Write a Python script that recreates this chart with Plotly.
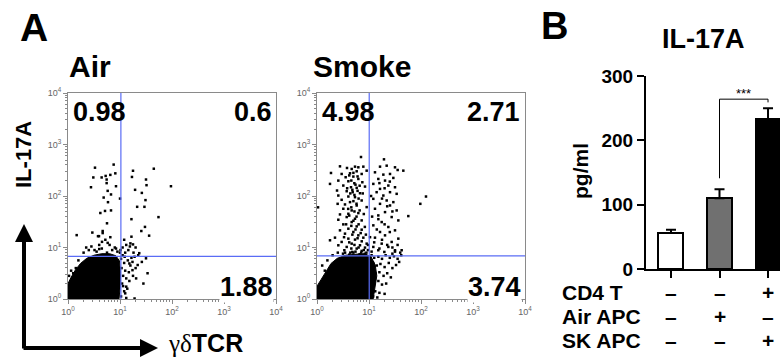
import plotly.graph_objects as go
import numpy as np

# ---------------- data ----------------
# flow cytometry dots, stored as log10 values (gamma-delta TCR, IL-17A)
air_dots = [
    (0.519,2.55),(0.878,2.61),(0.487,2.36),(0.647,2.36),(0.724,2.39),(0.814,2.41),(0.743,2.32),(0.910,2.44),
    (1.25,2.49),(1.23,2.37),(1.65,2.53),(0.442,2.17),(0.923,2.19),(0.743,2.25),(1.50,2.32),(1.51,2.21),
    (1.98,2.19),(1.29,2.12),(0.763,2.10),(0.827,2.03),(0.686,1.97),(0.769,1.88),(1.0,1.95),(1.42,2.06),
    (1.49,1.92),(1.33,1.79),(1.47,1.79),(0.827,1.72),(0.712,1.71),(0.622,1.67),(1.74,1.59),(1.22,1.55),
    (0.75,1.47),(1.48,1.40),(1.41,1.32),(1.56,1.23),(0.167,1.24),(0.468,1.29),(0.667,1.32),(0.667,1.28),
    (0.577,1.22),(0.596,1.22),(0.814,1.20),(0.718,1.15),(0.654,1.11),(0.763,1.09),(1.08,1.15),(1.22,1.21),
    (1.12,1.05),(1.19,1.02),(1.25,1.06),(0.923,0.98),(1.01,0.95),(0.60,0.97),(0.51,0.95),
    (1.37,0.89),(1.50,0.79),(1.53,0.50),(1.45,0.30),(1.31,0.40),(1.24,0.56),(1.34,0.66),(1.18,0.69),
    (1.42,0.72),(1.28,0.82),(1.12,0.24),(1.10,0.11),(1.28,0.01),(1.05,0.85),(1.08,0.70),(1.03,0.60),
    (1.10,0.55),(1.06,0.45),(1.12,0.40),(1.04,0.30),(1.15,0.75),(1.20,0.65),(1.14,0.20),(1.08,0.15),
    (1.02,0.05),(1.18,0.35),(1.25,0.45),(1.30,0.60),(1.22,0.80),(1.10,0.90),(1.16,0.95),(1.26,0.90),
    (1.35,0.85),(1.05,1.00),(1.20,1.08),(1.30,1.00),(1.00,0.90),(1.12,0.02),(1.06,0.25),(1.17,0.52),
    (1.09,0.82),(1.24,0.72),(1.02,0.78),
    (0.30,0.90),(0.40,0.95),(0.55,0.92),(0.65,0.98),(0.75,0.90),(0.85,0.95),(0.45,1.02),(0.60,1.05),
    (0.20,0.75),(0.15,0.60),(0.90,1.00),(0.35,1.00),(0.80,1.05),(0.95,0.92),
    (0.03,0.10),(0.05,0.25),(0.08,0.40),(0.02,0.45),(0.10,0.50),(0.06,0.55),
]
air_blob = [(0.0,0.0),(0.0,0.3),(0.06,0.42),(0.14,0.56),(0.24,0.69),(0.36,0.79),(0.5,0.85),(0.65,0.88),
            (0.8,0.88),(0.92,0.84),(0.99,0.74),(1.01,0.5),(1.0,0.2),(0.98,0.0)]

smoke_dots = [
    (0.846,2.757),(0.442,2.576),(0.577,2.544),(0.731,2.570),(0.795,2.557),(0.891,2.570),(0.667,2.525),
    (0.269,2.447),(0.474,2.428),(0.635,2.441),(0.763,2.480),(0.859,2.428),(0.955,2.492),(0.551,2.364),
    (0.699,2.377),(0.795,2.331),(0.410,2.299),(0.603,2.286),(0.250,2.235),(0.718,2.248),(0.872,2.267),
    (0.506,2.203),(0.654,2.170),(0.763,2.158),(0.923,2.183),(0.385,2.106),(0.571,2.093),(0.686,2.074),
    (0.827,2.054),(0.410,2.009),(0.603,1.990),(0.731,1.977),(0.474,1.926),(0.859,1.913),(0.635,1.881),
    (0.538,1.836),(0.763,1.816),(0.397,1.848),(0.955,1.784),(0.506,1.752),(0.667,1.720),(0.603,1.655),
    (0.795,1.668),(0.442,1.642),(0.571,1.591),(0.731,1.558),(0.859,1.526),(0.410,1.539),(0.667,1.494),
    (0.506,1.449),(0.763,1.410),(0.603,1.365),(0.859,1.346),(0.442,1.333),(0.699,1.301),(0.538,1.269),
    (0.795,1.236),(0.346,1.191),(0.250,1.140),(0.603,1.172),(0.731,1.153),(0.891,1.191),(0.474,1.108),
    (0.667,1.075),(0.827,1.043),(0.571,1.011),(0.763,0.979),(0.923,0.998),(0.410,1.043),(0.526,0.947),
    (0.679,0.914),(0.859,0.934),(0.955,1.075),
    (0.62,2.40),(0.70,2.45),(0.78,2.38),(0.66,2.30),(0.74,2.22),(0.82,2.20),(0.68,2.12),(0.78,2.10),
    (0.72,2.02),(0.64,2.05),(0.80,1.95),(0.70,1.90),(0.76,1.85),(0.66,1.78),(0.72,1.70),(0.82,1.72),
    (0.62,1.62),(0.76,1.60),(0.70,1.52),(0.80,1.45),(0.66,1.42),(0.74,1.35),(0.84,1.28),(0.68,1.25),
    (0.78,1.18),(0.62,1.10),(0.72,1.05),(0.86,1.12),(0.80,1.00),(0.66,0.98),(0.90,0.95),(0.58,2.15),
    (0.88,2.05),(0.60,1.75),(0.90,1.65),(0.56,1.45),(0.92,1.40),(0.52,1.20),(0.94,1.25),(0.98,1.05),
    (0.98,0.95),(0.95,0.90),(0.85,0.90),(0.74,0.92),(0.64,0.90),(0.54,0.90),(0.02,1.78),
    (1.288,2.712),(1.500,2.557),(1.551,2.505),(1.660,2.492),(1.212,2.570),(1.340,2.589),(1.115,2.460),
    (1.276,2.415),(1.404,2.428),(1.179,2.331),(1.468,2.351),(1.308,2.299),(1.083,2.235),(1.372,2.203),
    (1.500,2.170),(1.212,2.138),(1.147,2.074),(1.404,2.074),(1.532,2.042),(1.276,2.009),(1.083,1.945),
    (1.340,1.913),(1.468,1.881),(1.212,1.848),(1.404,1.816),(1.115,1.752),(1.532,1.720),(1.308,1.687),
    (1.179,1.623),(1.436,1.591),(1.564,1.526),(1.244,1.494),(1.083,1.430),(1.372,1.398),(1.500,1.333),
    (1.212,1.301),(1.308,1.236),(1.115,1.191),(1.564,1.172),(1.436,1.108),(1.244,1.075),(1.083,1.011),
    (1.372,1.011),(1.628,0.947),(1.500,0.947),(1.179,0.947),(1.295,0.914),
    (2.096,1.990),(1.987,1.848),(1.756,1.610),
    (1.20,2.25),(1.30,2.15),(1.40,2.28),(1.25,1.95),(1.35,1.80),(1.45,1.70),(1.18,1.55),(1.30,1.45),
    (1.40,1.30),(1.15,1.35),(1.25,1.15),(1.35,1.05),(1.45,1.00),(1.10,1.10),(1.20,0.98),(1.05,0.92),
    (1.55,1.05),(1.50,0.92),(1.60,0.90),(1.02,1.20),(1.06,1.60),(1.04,2.00),
    (1.05,0.85),(1.10,0.80),(1.18,0.82),(1.25,0.78),(1.32,0.85),(1.40,0.80),(1.48,0.83),(1.55,0.78),
    (1.62,0.85),(1.08,0.70),(1.15,0.65),(1.22,0.68),(1.30,0.62),(1.38,0.70),(1.45,0.60),(1.52,0.66),
    (1.06,0.55),(1.12,0.50),(1.20,0.52),(1.28,0.45),(1.35,0.50),(1.42,0.42),(1.05,0.40),(1.10,0.32),
    (1.18,0.35),(1.25,0.28),(1.33,0.30),(1.05,0.20),(1.12,0.15),(1.20,0.12),(1.08,0.05),(1.16,0.03),
    (1.30,0.10),(1.03,0.62),(1.58,0.72),(1.45,0.88),
    (0.30,0.85),(0.40,0.90),(0.50,0.88),(0.62,0.86),(0.70,0.90),(0.82,0.87),(0.92,0.88),(0.20,0.75),
    (0.10,0.65),(0.15,0.55),
]
smoke_blob = [(0.0,0.0),(0.0,0.25),(0.08,0.38),(0.17,0.54),(0.27,0.69),(0.39,0.79),(0.55,0.85),(0.75,0.87),
              (0.92,0.88),(1.04,0.82),(1.12,0.66),(1.15,0.45),(1.12,0.22),(1.08,0.0)]

# quadrant gates (linear values)
air_gate = (10.4, 6.7)
smoke_gate = (10.1, 6.9)
air_quadrants = ["0.98", "0.6", "1.88"]
smoke_quadrants = ["4.98", "2.71", "3.74"]

log_ticks = [1, 10, 100, 1000, 10000]
log_tick_text = ["10<sup>0</sup>", "10<sup>1</sup>", "10<sup>2</sup>", "10<sup>3</sup>", "10<sup>4</sup>"]

# bar chart
bar_groups = [0, 1, 2]
bar_values = [56, 110, 233]
bar_errors = [5, 14, 17]
bar_colors = ["white", "#707070", "black"]
row_labels = ["CD4 T", "Air APC", "SK APC"]
row_signs = [["–", "–", "+"], ["–", "+", "–"], ["–", "–", "+"]]
bar_ticks = [0, 100, 200, 300]

# ---------------- figure ----------------
W, H = 780, 357
FONT = "Liberation Sans, Arial, sans-serif"


def px(x):
    return x / W


def py(y):
    return 1 - y / H


fig = go.Figure()

panels = [
    ("x", "y", air_dots, air_blob, air_gate),
    ("x2", "y2", smoke_dots, smoke_blob, smoke_gate),
]
for xa, ya, dots, blob, gate in panels:
    bx = [10 ** p[0] for p in blob]
    by = [10 ** p[1] for p in blob]
    fig.add_trace(go.Scatter(x=bx, y=by, fill="toself", fillcolor="black", mode="lines",
                             line=dict(color="black", width=1), xaxis=xa, yaxis=ya,
                             hoverinfo="skip", showlegend=False))
    dx = [10 ** p[0] for p in dots]
    dy = [10 ** p[1] for p in dots]
    fig.add_trace(go.Scatter(x=dx, y=dy, mode="markers",
                             marker=dict(color="black", size=2.5, symbol="square", line=dict(width=0)),
                             xaxis=xa, yaxis=ya, showlegend=False))
    fig.add_trace(go.Scatter(x=[gate[0], gate[0]], y=[1, 10000], mode="lines",
                             line=dict(color="#5a6cf5", width=1.2), xaxis=xa, yaxis=ya, showlegend=False))
    fig.add_trace(go.Scatter(x=[1, 10000], y=[gate[1], gate[1]], mode="lines",
                             line=dict(color="#5a6cf5", width=1.2), xaxis=xa, yaxis=ya, showlegend=False))

# bars
fig.add_trace(go.Bar(
    x=bar_groups, y=bar_values, width=0.515,
    marker=dict(color=bar_colors, line=dict(color="black", width=2)),
    error_y=dict(type="data", symmetric=False, array=bar_errors, arrayminus=[0, 0, 0],
                 color="black", thickness=2, width=5),
    xaxis="x3", yaxis="y3", showlegend=False))

minor_vals = [m * 10 ** d for d in range(4) for m in range(2, 10)]


def flow_axis(dom):
    return dict(domain=dom, type="log", range=[0, 4], showgrid=False, zeroline=False,
                automargin=False,
                showline=True, linecolor="#8a8a8a", linewidth=1, mirror=True,
                ticks="outside", ticklen=4, tickcolor="#8a8a8a",
                tickvals=log_ticks, ticktext=log_tick_text,
                tickfont=dict(family=FONT, size=9, color="#666"),
                minor=dict(ticks="outside", ticklen=2, tickcolor="#8a8a8a", tickvals=minor_vals))


fy_dom = [py(299), py(93)]
fig.update_layout(
    template="none",
    width=W, height=H, margin=dict(l=0, r=0, t=0, b=0, pad=0), autosize=False,
    paper_bgcolor="white", plot_bgcolor="white", showlegend=False, bargap=0,
    xaxis=dict(flow_axis([px(68), px(276)]), anchor="y"),
    yaxis=dict(flow_axis(fy_dom), anchor="x"),
    xaxis2=dict(flow_axis([px(317), px(525)]), anchor="y2"),
    yaxis2=dict(flow_axis(fy_dom), anchor="x2"),
    xaxis3=dict(domain=[px(646), 1.0], range=[-0.515, 2.247], anchor="y3", showgrid=False,
                automargin=False,
                zeroline=False, showline=True, linecolor="black", linewidth=2,
                ticks="outside", ticklen=7, tickwidth=2, tickcolor="black",
                tickvals=bar_groups, showticklabels=False),
    yaxis3=dict(domain=[py(269), py(76)], range=[0, 300], anchor="x3", showgrid=False,
                automargin=False,
                zeroline=False, showline=True, linecolor="black", linewidth=2,
                ticks="outside", ticklen=7, tickwidth=2, tickcolor="black",
                tickvals=bar_ticks,
                tickfont=dict(family=FONT, size=19, color="black", weight="bold")),
)

ann = []


def text(x, y, s, size, xanchor="left", yanchor="middle", angle=0, bg=None, weight="bold", family=FONT,
         xref="paper"):
    d = dict(x=x, y=y, xref=xref, yref="paper", text=s, showarrow=False, xanchor=xanchor,
             yanchor=yanchor, textangle=angle,
             font=dict(family=family, size=size, color="black", weight=weight))
    if bg:
        d["bgcolor"] = bg
        d["borderpad"] = 0
    ann.append(d)


# panel letters and titles
text(px(18), py(28), "A", 39)
text(px(539), py(26), "B", 38)
text(px(67), py(66), "Air", 30)
text(px(311), py(66), "Smoke", 30)
text(px(703), py(39), "IL-17A", 27, xanchor="center")

# quadrant numbers
text(px(71), py(112), air_quadrants[0], 27)
text(px(274), py(112), air_quadrants[1], 27, xanchor="right")
text(px(274), py(287), air_quadrants[2], 27, xanchor="right", bg="white")
text(px(320), py(112), smoke_quadrants[0], 27)
text(px(522), py(112), smoke_quadrants[1], 27, xanchor="right")
text(px(522), py(287), smoke_quadrants[2], 27, xanchor="right", bg="white")

# axis labels of flow plots
text(px(23), py(155), "IL-17A", 22, xanchor="center", angle=-90)
text(px(166), py(343),
     "<span style='font-family:Liberation Serif;font-weight:normal'>γδ</span><b>TCR</b>", 25)

# arrows
ann.append(dict(x=px(24), y=py(224), xref="paper", yref="paper", ax=0, ay=126, text="",
                showarrow=True, arrowhead=2, arrowsize=0.9, arrowwidth=4, arrowcolor="black"))
ann.append(dict(x=px(158), y=py(348), xref="paper", yref="paper", ax=-136, ay=0, text="",
                showarrow=True, arrowhead=2, arrowsize=0.9, arrowwidth=4, arrowcolor="black"))

# bar chart labels
text(px(580), py(171), "pg/ml", 21, xanchor="center", angle=-90)
row_y = [292, 316, 340]
for i, lab in enumerate(row_labels):
    text(px(560), py(row_y[i]), lab, 21)
    for j, s in enumerate(row_signs[i]):
        text(bar_groups[j], py(row_y[i]), s, 21, xanchor="center", xref="x3")

# significance
ann.append(dict(x=1.5, y=273, xref="x3", yref="y3", text="***", showarrow=False,
                font=dict(family=FONT, size=13, color="black"), yanchor="middle"))
fig.add_shape(type="path", path="M 1,141 L 1,264 L 2,264 L 2,259", xref="x3", yref="y3",
              line=dict(color="black", width=1))

fig.update_layout(annotations=ann)
fig.write_html("out.html", config=dict(displayModeBar=False),
               post_script="document.body.style.margin='0px';document.body.style.overflow='hidden';")
